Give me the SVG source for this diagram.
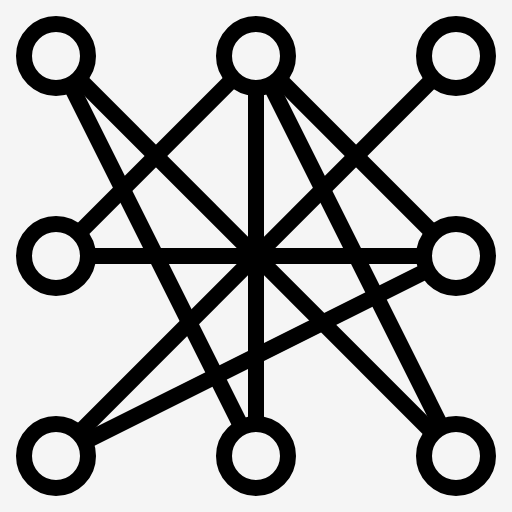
<svg xmlns="http://www.w3.org/2000/svg" width="512" height="512" viewBox="0 0 512 512">
<style>
.e{stroke:#000;stroke-width:16;fill:none}
.n{stroke:#000;stroke-width:16;fill:#f5f5f5}
</style>
<rect width="512" height="512" fill="#f5f5f5"/>
<g id="connectors">
<line class="e" x1="56" y1="56" x2="256" y2="456"/>
<line class="e" x1="56" y1="56" x2="456" y2="456"/>
<line class="e" x1="256" y1="56" x2="56" y2="256"/>
<line class="e" x1="256" y1="56" x2="256" y2="456"/>
<line class="e" x1="256" y1="56" x2="456" y2="456"/>
<line class="e" x1="256" y1="56" x2="456" y2="256"/>
<line class="e" x1="456" y1="56" x2="56" y2="456"/>
<line class="e" x1="56" y1="256" x2="456" y2="256"/>
<line class="e" x1="456" y1="256" x2="56" y2="456"/>
</g>
<g id="tl"><circle class="n" cx="56" cy="56" r="32"/></g>
<g id="tc"><circle class="n" cx="256" cy="56" r="32"/></g>
<g id="tr"><circle class="n" cx="456" cy="56" r="32"/></g>
<g id="ml"><circle class="n" cx="56" cy="256" r="32"/></g>
<g id="mr"><circle class="n" cx="456" cy="256" r="32"/></g>
<g id="bl"><circle class="n" cx="56" cy="456" r="32"/></g>
<g id="bc"><circle class="n" cx="256" cy="456" r="32"/></g>
<g id="br"><circle class="n" cx="456" cy="456" r="32"/></g>
</svg>
